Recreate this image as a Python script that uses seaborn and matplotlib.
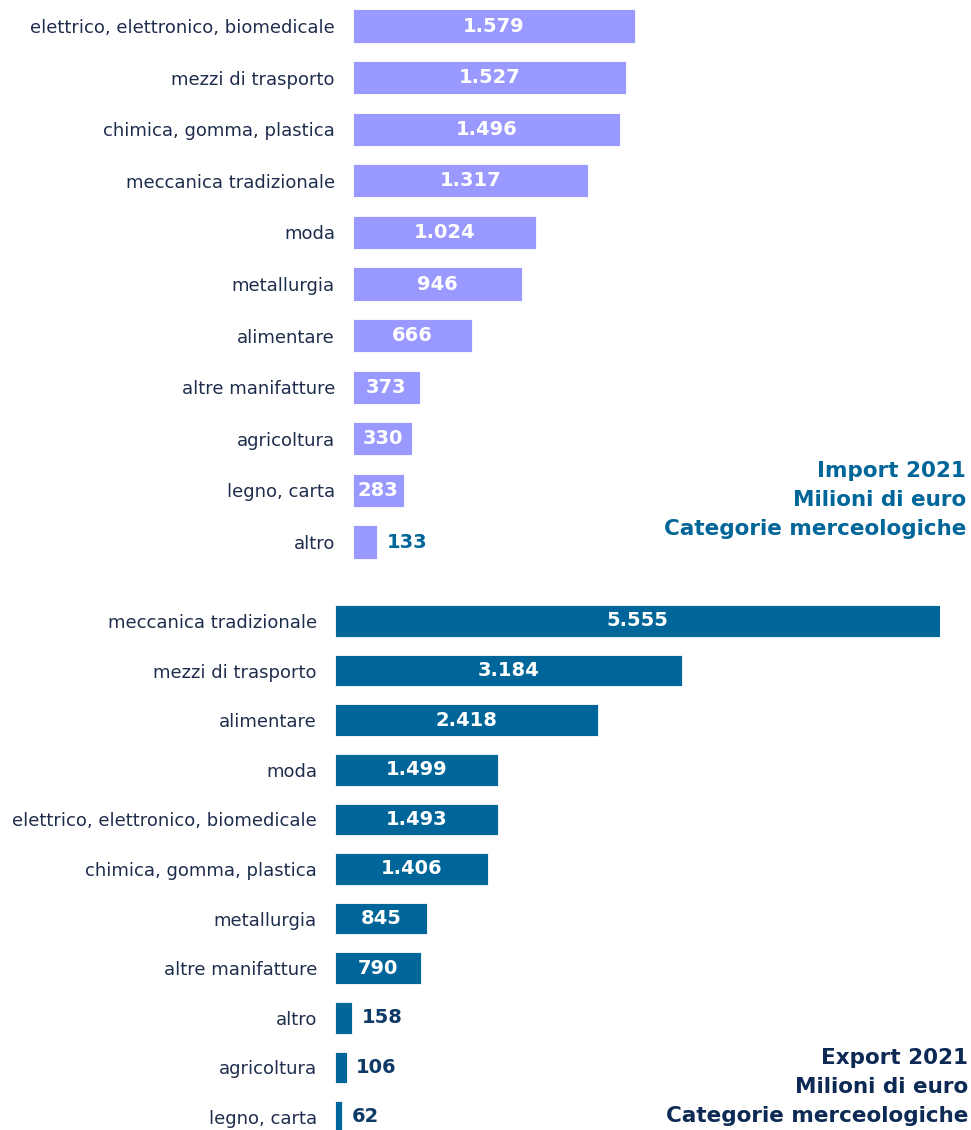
import matplotlib
matplotlib.use("Agg")
import matplotlib.pyplot as plt
import seaborn as sns
import pandas as pd

import_categories = ["elettrico, elettronico, biomedicale", "mezzi di trasporto",
                     "chimica, gomma, plastica", "meccanica tradizionale", "moda",
                     "metallurgia", "alimentare", "altre manifatture", "agricoltura",
                     "legno, carta", "altro"]
import_values = [1579, 1527, 1496, 1317, 1024, 946, 666, 373, 330, 283, 133]

export_categories = ["meccanica tradizionale", "mezzi di trasporto", "alimentare", "moda",
                     "elettrico, elettronico, biomedicale", "chimica, gomma, plastica",
                     "metallurgia", "altre manifatture", "altro", "agricoltura",
                     "legno, carta"]
export_values = [5555, 3184, 2418, 1499, 1493, 1406, 845, 790, 158, 106, 62]

import_title = ["Import 2021", "Milioni di euro", "Categorie merceologiche"]
export_title = ["Export 2021", "Milioni di euro", "Categorie merceologiche"]

sns.set_theme(style="white")
plt.rcParams['font.family'] = ['DejaVu Sans']

W, H = 971, 1130
fig = plt.figure(figsize=(W / 100, H / 100), dpi=100)

IMP_COLOR = "#9999FF"
EXP_COLOR = "#006699"
LABEL_COLOR = "#1F2D4D"


def fmt(v):
    return f"{v:,}".replace(",", ".")


def draw(ax, cats, vals, color, xmax, out_thresh, out_color):
    df = pd.DataFrame({"cat": cats, "val": vals})
    sns.barplot(data=df, x="val", y="cat", ax=ax, color=color, saturation=1,
                width=0.64, orient="h", edgecolor="white", linewidth=0.6)
    ax.set_xlim(0, xmax)
    ax.set_xlabel("")
    ax.set_ylabel("")
    ax.set_xticks([])
    for s in ax.spines.values():
        s.set_visible(False)
    ax.tick_params(axis="y", length=0, pad=13, labelsize=13, labelcolor=LABEL_COLOR)
    for i, v in enumerate(vals):
        if v < out_thresh:
            ax.annotate(fmt(v), (v, i), xytext=(7, 0), textcoords="offset points",
                        ha="left", va="center", fontsize=14, fontweight="bold",
                        color=out_color)
        else:
            ax.text(v / 2, i, fmt(v), ha="center", va="center", fontsize=14,
                    fontweight="bold", color="white")


# top axes: x 353..940 px, bars centered at 26..542 px
sp1 = 51.6
top1 = 26 - sp1 / 2
bot1 = 542 + sp1 / 2
ax1 = fig.add_axes([353 / W, 1 - bot1 / H, (940 - 353) / W, (bot1 - top1) / H])
draw(ax1, import_categories, import_values, IMP_COLOR,
     1579 * (940 - 353) / (635 - 353), 200, "#006699")
ax1.set_ylim(10.5, -0.5)

# bottom axes: x 335..940 px, bars centered at 621..1117 px
sp2 = 49.6
top2 = 621 - sp2 / 2
ax2 = fig.add_axes([335 / W, 0, (940 - 335) / W, (H - top2) / H])
draw(ax2, export_categories, export_values, EXP_COLOR, 5555, 300, "#0D3A66")
ax2.set_ylim(10 + (H - 1117) / sp2, -0.5)

for i, line in enumerate(import_title):
    fig.text(966 / W, 1 - (471 + 29 * i) / H, line, ha="right", va="center",
             fontsize=15.5, fontweight="bold", color="#006699")
for i, line in enumerate(export_title):
    fig.text(968 / W, 1 - (1058 + 29 * i) / H, line, ha="right", va="center",
             fontsize=15.5, fontweight="bold", color="#0D2A55")

fig.savefig("out.png", dpi=100)
